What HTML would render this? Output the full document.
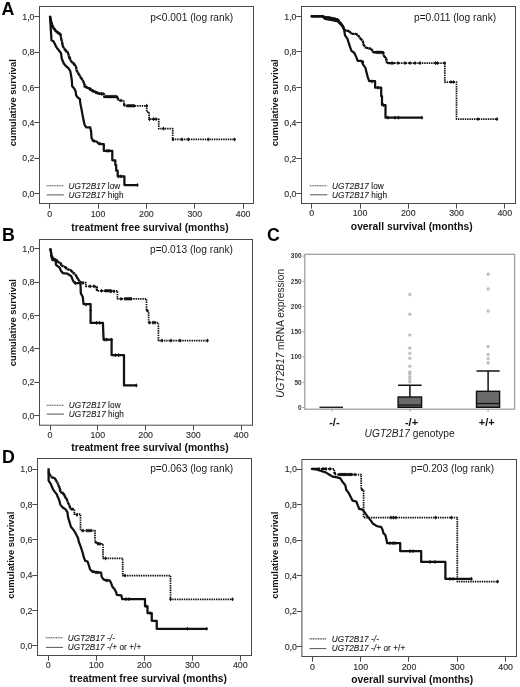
<!DOCTYPE html><html><head><meta charset="utf-8"><style>html,body{margin:0;padding:0;background:#fff;overflow:hidden;}svg{display:block;filter:grayscale(1);}text{font-family:"Liberation Sans", sans-serif;}</style></head><body>
<svg width="520" height="687" viewBox="0 0 520 687">
<rect width="520" height="687" fill="#fff"/>
<text x="1.6" y="14.8" font-size="17.8" font-weight="bold" fill="#000">A</text>
<text x="2.1" y="240.7" font-size="17.8" font-weight="bold" fill="#000">B</text>
<text x="267" y="240.7" font-size="17.8" font-weight="bold" fill="#000">C</text>
<text x="1.9" y="462.7" font-size="17.8" font-weight="bold" fill="#000">D</text>
<rect x="39.5" y="6.5" width="214" height="197" fill="none" stroke="#4a4a4a" stroke-width="1"/>
<text x="34.5" y="196.8" text-anchor="end" font-size="8.8" fill="#333" stroke="#333" stroke-width="0.15">0,0</text>
<text x="34.5" y="161.42" text-anchor="end" font-size="8.8" fill="#333" stroke="#333" stroke-width="0.15">0,2</text>
<text x="34.5" y="126.04" text-anchor="end" font-size="8.8" fill="#333" stroke="#333" stroke-width="0.15">0,4</text>
<text x="34.5" y="90.66" text-anchor="end" font-size="8.8" fill="#333" stroke="#333" stroke-width="0.15">0,6</text>
<text x="34.5" y="55.28" text-anchor="end" font-size="8.8" fill="#333" stroke="#333" stroke-width="0.15">0,8</text>
<text x="34.5" y="19.9" text-anchor="end" font-size="8.8" fill="#333" stroke="#333" stroke-width="0.15">1,0</text>
<text x="49.7" y="216.6" text-anchor="middle" font-size="8.8" fill="#333" stroke="#333" stroke-width="0.15">0</text>
<text x="98.05" y="216.6" text-anchor="middle" font-size="8.8" fill="#333" stroke="#333" stroke-width="0.15">100</text>
<text x="146.4" y="216.6" text-anchor="middle" font-size="8.8" fill="#333" stroke="#333" stroke-width="0.15">200</text>
<text x="194.75" y="216.6" text-anchor="middle" font-size="8.8" fill="#333" stroke="#333" stroke-width="0.15">300</text>
<text x="243.1" y="216.6" text-anchor="middle" font-size="8.8" fill="#333" stroke="#333" stroke-width="0.15">400</text>
<path d="M34.3 193.5H39.5M34.3 158.5H39.5M34.3 122.5H39.5M34.3 87.5H39.5M34.3 52.5H39.5M34.3 16.5H39.5M49.5 203.5V208.7M98.5 203.5V208.7M146.5 203.5V208.7M194.5 203.5V208.7M243.5 203.5V208.7" stroke="#4a4a4a" stroke-width="1" fill="none"/>
<text x="150" y="230.5" text-anchor="middle" font-size="10.3" font-weight="bold" fill="#111">treatment free survival (months)</text>
<text transform="translate(15.9 102.7) rotate(-90)" text-anchor="middle" font-size="9.4" font-weight="bold" fill="#111">cumulative survival</text>
<text x="150.2" y="21.1" font-size="10.2" fill="#1a1a1a">p&lt;0.001 (log rank)</text>
<path d="M46.7 185.8H63.8" stroke="#444" stroke-width="1.1" stroke-dasharray="1.1 0.6" fill="none"/>
<path d="M46.7 194.9H63.8" stroke="#555" stroke-width="1" fill="none"/>
<text x="68.5" y="188.6" font-size="8.2" fill="#1a1a1a" stroke="#1a1a1a" stroke-width="0.1" letter-spacing="0.08"><tspan font-style="italic">UGT2B17</tspan> low</text>
<text x="68.5" y="197.7" font-size="8.2" fill="#1a1a1a" stroke="#1a1a1a" stroke-width="0.1" letter-spacing="0.08"><tspan font-style="italic">UGT2B17</tspan> high</text>
<path d="M50 16.6L51.2 22L52.3 25.8L53.8 28.5L56.5 31.6L60.4 34.3L61.2 38.9L62.3 42.8L62.6 45.8L64.9 49.6L68 52.7L69.2 57.3L71.1 61.2L74.2 64.2L76.1 66.5L76.5 70.4L78.8 74.2L81.1 78.1L83 80.5L83.8 83.1L85.3 86.2L86.8 87.7L89.5 88.5L91.8 90.4L94.2 91.5L97.2 93.1L100.3 93.8H104.3V96.7H117.3V97.2L118.75 100.5H123.1V101H124V103.4L124.5 105.8H146.7V112H149.1V119.2H158.75V128.7H172.7V139.4H234.6V139.4" fill="none" stroke="#111" stroke-width="1.75" stroke-linejoin="round" stroke-dasharray="1.45 0.85"/>
<path d="M50 16.6L51.2 22M51.2 22L52.3 25.8M52.3 25.8L53.8 28.5M53.8 28.5L56.5 31.6M56.5 31.6L60.4 34.3M60.4 34.3L61.2 38.9M61.2 38.9L62.3 42.8M62.3 42.8L62.6 45.8M62.6 45.8L64.9 49.6M64.9 49.6L68 52.7M68 52.7L69.2 57.3M69.2 57.3L71.1 61.2M71.1 61.2L74.2 64.2M74.2 64.2L76.1 66.5M76.1 66.5L76.5 70.4M76.5 70.4L78.8 74.2M78.8 74.2L81.1 78.1M81.1 78.1L83 80.5M83 80.5L83.8 83.1M83.8 83.1L85.3 86.2M85.3 86.2L86.8 87.7M86.8 87.7L89.5 88.5M89.5 88.5L91.8 90.4M91.8 90.4L94.2 91.5M94.2 91.5L97.2 93.1M97.2 93.1L100.3 93.8M117.3 97.2L118.75 100.5M124 103.4L124.5 105.8" fill="none" stroke="#111" stroke-width="2.35" stroke-dasharray="2.3 0.6"/>
<path d="M104.3 96.7L116.8 96.7" fill="none" stroke="#111" stroke-width="2.4" stroke-linecap="round" stroke-linejoin="round"/>
<path d="M127 105.8L134 105.8" fill="none" stroke="#111" stroke-width="2.4" stroke-linecap="round" stroke-linejoin="round"/>
<path d="M84.5 86.5L89.5 88.5L92 90.5L100.3 93.8" fill="none" stroke="#111" stroke-width="2.4" stroke-linecap="round" stroke-linejoin="round"/>
<path d="M50 16.6L51.2 22L52.3 25.8L53.8 28.5L56.5 31.6L60.4 34.3" fill="none" stroke="#111" stroke-width="2.4" stroke-linecap="round" stroke-linejoin="round"/>
<path d="M173 137.3L174.4 139.4L173 141.5L171.6 139.4ZM182 137.3L183.4 139.4L182 141.5L180.6 139.4ZM188.5 137.3L189.9 139.4L188.5 141.5L187.1 139.4ZM208.2 137.3L209.6 139.4L208.2 141.5L206.8 139.4ZM234.6 137.3L236 139.4L234.6 141.5L233.2 139.4ZM163.5 126.6L164.9 128.7L163.5 130.8L162.1 128.7ZM149.5 117.1L150.9 119.2L149.5 121.3L148.1 119.2ZM153.5 117.1L154.9 119.2L153.5 121.3L152.1 119.2ZM156 117.1L157.4 119.2L156 121.3L154.6 119.2ZM128 103.7L129.4 105.8L128 107.9L126.6 105.8ZM130 103.7L131.4 105.8L130 107.9L128.6 105.8ZM132 103.7L133.4 105.8L132 107.9L130.6 105.8ZM134 103.7L135.4 105.8L134 107.9L132.6 105.8ZM106 94.6L107.4 96.7L106 98.8L104.6 96.7ZM108 94.6L109.4 96.7L108 98.8L106.6 96.7ZM110 94.6L111.4 96.7L110 98.8L108.6 96.7ZM112 94.6L113.4 96.7L112 98.8L110.6 96.7ZM114 94.6L115.4 96.7L114 98.8L112.6 96.7ZM116 94.6L117.4 96.7L116 98.8L114.6 96.7ZM121 98.4L122.4 100.5L121 102.6L119.6 100.5ZM146.7 103.7L148.1 105.8L146.7 107.9L145.3 105.8ZM101.5 91.7L102.9 93.8L101.5 95.9L100.1 93.8ZM103 91.7L104.4 93.8L103 95.9L101.6 93.8ZM90 86.9L91.4 89L90 91.1L88.6 89ZM93 88.9L94.4 91L93 93.1L91.6 91ZM96 90.4L97.4 92.5L96 94.6L94.6 92.5ZM70 55.9L71.4 58L70 60.1L68.6 58ZM74 61.9L75.4 64L74 66.1L72.6 64ZM66 48.9L67.4 51L66 53.1L64.6 51ZM58 30.9L59.4 33L58 35.1L56.6 33ZM55 27.9L56.4 30L55 32.1L53.6 30Z" fill="#111" stroke="none"/>
<path d="M50 16.6L51.5 40.5L53.5 41.2L55 44.3L56.5 47.4L58.2 49.5L60.5 52.5L61.1 53.5L61.8 58.8L63.8 63.5L65.7 65.8L68.4 68.1L70.3 71.2L71.1 75.8L71.8 80L72.2 86.2L74.2 88.5L75.7 91.5L76.1 95.4L77.6 97.3L79.9 99.2L80.3 103.1L81.5 109.2L82.2 113.1L83.4 119.2L84.5 124.6L86.1 127.3H90.3V127.7L91.1 131.5L91.5 137.7L93 140.8L96.5 141.5L98.8 143.8L102.6 144.2H103.8V150.8H112.3V160.3H115.3V165H116.2V170.7H117.7V176.3H124.4V185H137.4V185" fill="none" stroke="#111" stroke-width="2.25" stroke-linejoin="round"/>
<path d="M137.4 182.9L138.8 185L137.4 187.1L136 185ZM99.9 141.6L101.3 143.7L99.9 145.8L98.5 143.7ZM94 138.9L95.4 141L94 143.1L92.6 141ZM107 148.7L108.4 150.8L107 152.9L105.6 150.8ZM109 148.7L110.4 150.8L109 152.9L107.6 150.8ZM118.5 174.2L119.9 176.3L118.5 178.4L117.1 176.3ZM121 174.2L122.4 176.3L121 178.4L119.6 176.3Z" fill="#111" stroke="none"/>
<rect x="301.5" y="6.5" width="214" height="197" fill="none" stroke="#4a4a4a" stroke-width="1"/>
<text x="296.5" y="196.95" text-anchor="end" font-size="8.8" fill="#333" stroke="#333" stroke-width="0.15">0,0</text>
<text x="296.5" y="161.5" text-anchor="end" font-size="8.8" fill="#333" stroke="#333" stroke-width="0.15">0,2</text>
<text x="296.5" y="126.05" text-anchor="end" font-size="8.8" fill="#333" stroke="#333" stroke-width="0.15">0,4</text>
<text x="296.5" y="90.6" text-anchor="end" font-size="8.8" fill="#333" stroke="#333" stroke-width="0.15">0,6</text>
<text x="296.5" y="55.15" text-anchor="end" font-size="8.8" fill="#333" stroke="#333" stroke-width="0.15">0,8</text>
<text x="296.5" y="19.7" text-anchor="end" font-size="8.8" fill="#333" stroke="#333" stroke-width="0.15">1,0</text>
<text x="311.75" y="216.3" text-anchor="middle" font-size="8.8" fill="#333" stroke="#333" stroke-width="0.15">0</text>
<text x="360" y="216.3" text-anchor="middle" font-size="8.8" fill="#333" stroke="#333" stroke-width="0.15">100</text>
<text x="408.25" y="216.3" text-anchor="middle" font-size="8.8" fill="#333" stroke="#333" stroke-width="0.15">200</text>
<text x="456.5" y="216.3" text-anchor="middle" font-size="8.8" fill="#333" stroke="#333" stroke-width="0.15">300</text>
<text x="504.75" y="216.3" text-anchor="middle" font-size="8.8" fill="#333" stroke="#333" stroke-width="0.15">400</text>
<path d="M296.3 193.5H301.5M296.3 158.5H301.5M296.3 122.5H301.5M296.3 87.5H301.5M296.3 51.5H301.5M296.3 16.5H301.5M311.5 203.5V208.7M360.5 203.5V208.7M408.5 203.5V208.7M456.5 203.5V208.7M504.5 203.5V208.7" stroke="#4a4a4a" stroke-width="1" fill="none"/>
<text x="411.8" y="230" text-anchor="middle" font-size="10.3" font-weight="bold" fill="#111">overall survival (months)</text>
<text transform="translate(278.2 102.8) rotate(-90)" text-anchor="middle" font-size="9.4" font-weight="bold" fill="#111">cumulative survival</text>
<text x="414" y="20.7" font-size="10.2" fill="#1a1a1a">p=0.011 (log rank)</text>
<path d="M310 185.8H327.3" stroke="#444" stroke-width="1.1" stroke-dasharray="1.1 0.6" fill="none"/>
<path d="M310 194.8H327.3" stroke="#555" stroke-width="1" fill="none"/>
<text x="332" y="188.6" font-size="8.2" fill="#1a1a1a" stroke="#1a1a1a" stroke-width="0.1" letter-spacing="0.08"><tspan font-style="italic">UGT2B17</tspan> low</text>
<text x="332" y="197.6" font-size="8.2" fill="#1a1a1a" stroke="#1a1a1a" stroke-width="0.1" letter-spacing="0.08"><tspan font-style="italic">UGT2B17</tspan> high</text>
<path d="M311.5 16.3H322.6V16.3L325 17.5L331 17.8L338 19.5L339.6 22.5L342.7 26.2L344.2 30L348.8 31.2L351.9 33.8L355.8 33.8L358.1 35.4L360.4 38.5L362.7 40.8L363.5 44.6L365.8 47.7L371.2 48.8L372.7 51.5L374 52.3H383.1V52.3L383.8 55.8L386.2 58.5L386.9 63.1H444.8V82H456.5V119.1H497V119.1" fill="none" stroke="#111" stroke-width="1.75" stroke-linejoin="round" stroke-dasharray="1.45 0.85"/>
<path d="M322.6 16.3L325 17.5M325 17.5L331 17.8M331 17.8L338 19.5M338 19.5L339.6 22.5M339.6 22.5L342.7 26.2M342.7 26.2L344.2 30M344.2 30L348.8 31.2M348.8 31.2L351.9 33.8M351.9 33.8L355.8 33.8M355.8 33.8L358.1 35.4M358.1 35.4L360.4 38.5M360.4 38.5L362.7 40.8M362.7 40.8L363.5 44.6M363.5 44.6L365.8 47.7M365.8 47.7L371.2 48.8M371.2 48.8L372.7 51.5M372.7 51.5L374 52.3M383.1 52.3L383.8 55.8M383.8 55.8L386.2 58.5M386.2 58.5L386.9 63.1" fill="none" stroke="#111" stroke-width="2.35" stroke-dasharray="2.3 0.6"/>
<path d="M311.5 16.3L322.6 16.3L325 18.3L331 19.2L338 20.8L341 23.5L343.5 27.5" fill="none" stroke="#111" stroke-width="2.4" stroke-linecap="round" stroke-linejoin="round"/>
<path d="M322.6 16.3L326 17.3L332 18.2L338 19.8" fill="none" stroke="#111" stroke-width="2.4" stroke-linecap="round" stroke-linejoin="round"/>
<path d="M374 52.3L383 52.3" fill="none" stroke="#111" stroke-width="2.4" stroke-linecap="round" stroke-linejoin="round"/>
<path d="M388 63.1L394 63.1" fill="none" stroke="#111" stroke-width="2.4" stroke-linecap="round" stroke-linejoin="round"/>
<path d="M497 117L498.4 119.1L497 121.2L495.6 119.1ZM478 117L479.4 119.1L478 121.2L476.6 119.1ZM451 79.9L452.4 82L451 84.1L449.6 82ZM453.5 79.9L454.9 82L453.5 84.1L452.1 82ZM444.8 61L446.2 63.1L444.8 65.2L443.4 63.1ZM435.5 61L436.9 63.1L435.5 65.2L434.1 63.1ZM437.5 61L438.9 63.1L437.5 65.2L436.1 63.1ZM420 61L421.4 63.1L420 65.2L418.6 63.1ZM415 61L416.4 63.1L415 65.2L413.6 63.1ZM410 61L411.4 63.1L410 65.2L408.6 63.1ZM405 61L406.4 63.1L405 65.2L403.6 63.1ZM398 61L399.4 63.1L398 65.2L396.6 63.1ZM392 61L393.4 63.1L392 65.2L390.6 63.1ZM377 50.2L378.4 52.3L377 54.4L375.6 52.3ZM379 50.2L380.4 52.3L379 54.4L377.6 52.3ZM381 50.2L382.4 52.3L381 54.4L379.6 52.3Z" fill="#111" stroke="none"/>
<path d="M311.5 16.3H322.6V16.3L325 18.8L331 19.8L338 21.5L339.6 23.1L342.7 26.2L344.2 30L345 35.4L347.3 38.5L348.8 43.1L350 46.9L351.5 50.8L354.4 53L356.2 56.9L357.7 60.8H361.5V60.8L363.1 64.6L365.4 67.7L366.5 72.3L367.7 76.9L369.2 81.2H375.1V81.5H375.1V87.7H381.2V96.2H382V105H385.5V117.7H421.9V117.7" fill="none" stroke="#111" stroke-width="2.25" stroke-linejoin="round"/>
<path d="M421.9 115.6L423.3 117.7L421.9 119.8L420.5 117.7ZM388 115.6L389.4 117.7L388 119.8L386.6 117.7ZM395 115.6L396.4 117.7L395 119.8L393.6 117.7ZM398.5 115.6L399.9 117.7L398.5 119.8L397.1 117.7ZM378 85.6L379.4 87.7L378 89.8L376.6 87.7ZM372 79.2L373.4 81.3L372 83.4L370.6 81.3ZM383.5 102.9L384.9 105L383.5 107.1L382.1 105ZM363 59.9L364.4 62L363 64.1L361.6 62Z" fill="#111" stroke="none"/>
<rect x="39.5" y="239.5" width="213" height="185.7" fill="none" stroke="#4a4a4a" stroke-width="1"/>
<text x="34.5" y="418.7" text-anchor="end" font-size="8.8" fill="#333" stroke="#333" stroke-width="0.15">0,0</text>
<text x="34.5" y="385.35" text-anchor="end" font-size="8.8" fill="#333" stroke="#333" stroke-width="0.15">0,2</text>
<text x="34.5" y="352" text-anchor="end" font-size="8.8" fill="#333" stroke="#333" stroke-width="0.15">0,4</text>
<text x="34.5" y="318.65" text-anchor="end" font-size="8.8" fill="#333" stroke="#333" stroke-width="0.15">0,6</text>
<text x="34.5" y="285.3" text-anchor="end" font-size="8.8" fill="#333" stroke="#333" stroke-width="0.15">0,8</text>
<text x="34.5" y="251.95" text-anchor="end" font-size="8.8" fill="#333" stroke="#333" stroke-width="0.15">1,0</text>
<text x="50" y="438" text-anchor="middle" font-size="8.8" fill="#333" stroke="#333" stroke-width="0.15">0</text>
<text x="97.8" y="438" text-anchor="middle" font-size="8.8" fill="#333" stroke="#333" stroke-width="0.15">100</text>
<text x="145.6" y="438" text-anchor="middle" font-size="8.8" fill="#333" stroke="#333" stroke-width="0.15">200</text>
<text x="193.4" y="438" text-anchor="middle" font-size="8.8" fill="#333" stroke="#333" stroke-width="0.15">300</text>
<text x="241.2" y="438" text-anchor="middle" font-size="8.8" fill="#333" stroke="#333" stroke-width="0.15">400</text>
<path d="M34.3 415.5H39.5M34.3 382.5H39.5M34.3 348.5H39.5M34.3 315.5H39.5M34.3 282.5H39.5M34.3 248.5H39.5M50.5 425.2V430.4M97.5 425.2V430.4M145.5 425.2V430.4M193.5 425.2V430.4M241.5 425.2V430.4" stroke="#4a4a4a" stroke-width="1" fill="none"/>
<text x="149.9" y="450.6" text-anchor="middle" font-size="10.3" font-weight="bold" fill="#111">treatment free survival (months)</text>
<text transform="translate(16 322.75) rotate(-90)" text-anchor="middle" font-size="9.4" font-weight="bold" fill="#111">cumulative survival</text>
<text x="150" y="253.3" font-size="10.2" fill="#1a1a1a">p=0.013 (log rank)</text>
<path d="M46.7 405.3H64" stroke="#444" stroke-width="1.1" stroke-dasharray="1.1 0.6" fill="none"/>
<path d="M46.7 414.1H64" stroke="#555" stroke-width="1" fill="none"/>
<text x="68.8" y="408.1" font-size="8.2" fill="#1a1a1a" stroke="#1a1a1a" stroke-width="0.1" letter-spacing="0.08"><tspan font-style="italic">UGT2B17</tspan> low</text>
<text x="68.8" y="416.9" font-size="8.2" fill="#1a1a1a" stroke="#1a1a1a" stroke-width="0.1" letter-spacing="0.08"><tspan font-style="italic">UGT2B17</tspan> high</text>
<path d="M50.2 248.6L51 252L51.4 255.5L53.7 259L56.8 259.8L57.5 261.7L60.6 263.2L61.4 265.5L65.2 267.1L67.5 269.4L70.6 270.2L72.9 272.5L75.6 274.8L76.8 277.1L78.3 279.4L79.8 281.7L81.4 282.5H85.8V282.8H85.8V286.3H96.6V286.3L97 290.8H117.4V291.4H117.4V298.8H146.5V298.8H146.5V309.9L148.6 312H148.6V322.6H158.4V322.6H158.4V340.6H207.5V340.6" fill="none" stroke="#111" stroke-width="1.75" stroke-linejoin="round" stroke-dasharray="1.45 0.85"/>
<path d="M50.2 248.6L51 252M51 252L51.4 255.5M51.4 255.5L53.7 259M53.7 259L56.8 259.8M56.8 259.8L57.5 261.7M57.5 261.7L60.6 263.2M60.6 263.2L61.4 265.5M61.4 265.5L65.2 267.1M65.2 267.1L67.5 269.4M67.5 269.4L70.6 270.2M70.6 270.2L72.9 272.5M72.9 272.5L75.6 274.8M75.6 274.8L76.8 277.1M76.8 277.1L78.3 279.4M78.3 279.4L79.8 281.7M79.8 281.7L81.4 282.5M96.6 286.3L97 290.8M146.5 309.9L148.6 312" fill="none" stroke="#111" stroke-width="2.35" stroke-dasharray="2.3 0.6"/>
<path d="M105 290.8L111 290.8" fill="none" stroke="#111" stroke-width="2.4" stroke-linecap="round" stroke-linejoin="round"/>
<path d="M126 298.8L131 298.8" fill="none" stroke="#111" stroke-width="2.4" stroke-linecap="round" stroke-linejoin="round"/>
<path d="M207.5 338.5L208.9 340.6L207.5 342.7L206.1 340.6ZM180 338.5L181.4 340.6L180 342.7L178.6 340.6ZM171 338.5L172.4 340.6L171 342.7L169.6 340.6ZM162 338.5L163.4 340.6L162 342.7L160.6 340.6ZM149.5 320.5L150.9 322.6L149.5 324.7L148.1 322.6ZM153 320.5L154.4 322.6L153 324.7L151.6 322.6ZM155 320.5L156.4 322.6L155 324.7L153.6 322.6ZM121 296.7L122.4 298.8L121 300.9L119.6 298.8ZM125 296.7L126.4 298.8L125 300.9L123.6 298.8ZM127 296.7L128.4 298.8L127 300.9L125.6 298.8ZM129 296.7L130.4 298.8L129 300.9L127.6 298.8ZM131 296.7L132.4 298.8L131 300.9L129.6 298.8ZM101.5 288.7L102.9 290.8L101.5 292.9L100.1 290.8ZM106 288.7L107.4 290.8L106 292.9L104.6 290.8ZM108 288.7L109.4 290.8L108 292.9L106.6 290.8ZM110 288.7L111.4 290.8L110 292.9L108.6 290.8ZM111 289.3L112.4 291.4L111 293.5L109.6 291.4ZM114 289.3L115.4 291.4L114 293.5L112.6 291.4ZM90 284.2L91.4 286.3L90 288.4L88.6 286.3ZM94 284.2L95.4 286.3L94 288.4L92.6 286.3ZM83 280.7L84.4 282.8L83 284.9L81.6 282.8ZM66 265.9L67.4 268L66 270.1L64.6 268ZM61 261.9L62.4 264L61 266.1L59.6 264Z" fill="#111" stroke="none"/>
<path d="M50.2 248.6L51 252L51.4 256.7L52.5 260.2L55.6 260.5L56 264.8L59.8 267.8L60.6 270.2L62.9 273.2L67.5 273.6L69 274.8L71.4 276.3L72.5 279.4L73.7 281.7L74.8 283H80.5V283.4L80.8 293.2L82.8 297.1L83.5 304H90.6V304.8H90.6V322.9H102.9V322.9L103.6 339.6H111.6V339.6H111.6V355.1H124V355.1H124V385.4H136.3V385.4" fill="none" stroke="#111" stroke-width="2.25" stroke-linejoin="round"/>
<path d="M136.3 383.3L137.7 385.4L136.3 387.5L134.9 385.4ZM115.4 353L116.8 355.1L115.4 357.2L114 355.1ZM118.8 353L120.2 355.1L118.8 357.2L117.4 355.1ZM104.4 337.5L105.8 339.6L104.4 341.7L103 339.6ZM106.8 337.5L108.2 339.6L106.8 341.7L105.4 339.6ZM111.6 337.5L113 339.6L111.6 341.7L110.2 339.6ZM96.5 320.8L97.9 322.9L96.5 325L95.1 322.9ZM99.6 320.8L101 322.9L99.6 325L98.2 322.9ZM90.6 308.4L92 310.5L90.6 312.6L89.2 310.5ZM86 302.4L87.4 304.5L86 306.6L84.6 304.5ZM80.5 281.2L81.9 283.3L80.5 285.4L79.1 283.3ZM75.5 281.1L76.9 283.2L75.5 285.3L74.1 283.2Z" fill="#111" stroke="none"/>
<rect x="37.5" y="458.5" width="214" height="197" fill="none" stroke="#4a4a4a" stroke-width="1"/>
<text x="32.5" y="648.95" text-anchor="end" font-size="8.8" fill="#333" stroke="#333" stroke-width="0.15">0,0</text>
<text x="32.5" y="613.65" text-anchor="end" font-size="8.8" fill="#333" stroke="#333" stroke-width="0.15">0,2</text>
<text x="32.5" y="578.35" text-anchor="end" font-size="8.8" fill="#333" stroke="#333" stroke-width="0.15">0,4</text>
<text x="32.5" y="543.05" text-anchor="end" font-size="8.8" fill="#333" stroke="#333" stroke-width="0.15">0,6</text>
<text x="32.5" y="507.75" text-anchor="end" font-size="8.8" fill="#333" stroke="#333" stroke-width="0.15">0,8</text>
<text x="32.5" y="472.45" text-anchor="end" font-size="8.8" fill="#333" stroke="#333" stroke-width="0.15">1,0</text>
<text x="48.3" y="668.3" text-anchor="middle" font-size="8.8" fill="#333" stroke="#333" stroke-width="0.15">0</text>
<text x="96.3" y="668.3" text-anchor="middle" font-size="8.8" fill="#333" stroke="#333" stroke-width="0.15">100</text>
<text x="144.3" y="668.3" text-anchor="middle" font-size="8.8" fill="#333" stroke="#333" stroke-width="0.15">200</text>
<text x="192.3" y="668.3" text-anchor="middle" font-size="8.8" fill="#333" stroke="#333" stroke-width="0.15">300</text>
<text x="240.3" y="668.3" text-anchor="middle" font-size="8.8" fill="#333" stroke="#333" stroke-width="0.15">400</text>
<path d="M32.3 645.5H37.5M32.3 610.5H37.5M32.3 575.5H37.5M32.3 539.5H37.5M32.3 504.5H37.5M32.3 469.5H37.5M48.5 655.5V660.7M96.5 655.5V660.7M144.5 655.5V660.7M192.5 655.5V660.7M240.5 655.5V660.7" stroke="#4a4a4a" stroke-width="1" fill="none"/>
<text x="148.2" y="681.6" text-anchor="middle" font-size="10.3" font-weight="bold" fill="#111">treatment free survival (months)</text>
<text transform="translate(13.9 555.2) rotate(-90)" text-anchor="middle" font-size="9.4" font-weight="bold" fill="#111">cumulative survival</text>
<text x="150.2" y="471.5" font-size="10.2" fill="#1a1a1a">p=0.063 (log rank)</text>
<path d="M45.8 637.7H63" stroke="#444" stroke-width="1.1" stroke-dasharray="1.1 0.6" fill="none"/>
<path d="M45.8 647.4H63" stroke="#555" stroke-width="1" fill="none"/>
<text x="67.7" y="640.5" font-size="8.2" fill="#1a1a1a" stroke="#1a1a1a" stroke-width="0.1" letter-spacing="0.08"><tspan font-style="italic">UGT2B17 -/-</tspan></text>
<text x="67.7" y="650.2" font-size="8.2" fill="#1a1a1a" stroke="#1a1a1a" stroke-width="0.1" letter-spacing="0.08"><tspan font-style="italic">UGT2B17 -/+</tspan> or +/+</text>
<path d="M48.6 468.5H48.6V472L49.4 474.2L51.7 477.3L54.8 478.1L55.9 480.4L57.5 482.7L58.6 485.8L59.8 488.1L60.5 491.9L62.8 493.1L64.4 495L65.2 497.3L66.6 498.8L68 502.7L69.5 505.6L70.4 508.9H74.3V509.4H74.3V514.2H80.5V515.2H80.5V530.6H95V530.6H95V541.9L98.7 543.8H103V543.8H103V558.3H122.7V558.3H122.7V575.5H170.5V575.5H170.5V599.25H232.5V599.25" fill="none" stroke="#111" stroke-width="1.75" stroke-linejoin="round" stroke-dasharray="1.45 0.85"/>
<path d="M48.6 472L49.4 474.2M49.4 474.2L51.7 477.3M51.7 477.3L54.8 478.1M54.8 478.1L55.9 480.4M55.9 480.4L57.5 482.7M57.5 482.7L58.6 485.8M58.6 485.8L59.8 488.1M59.8 488.1L60.5 491.9M60.5 491.9L62.8 493.1M62.8 493.1L64.4 495M64.4 495L65.2 497.3M65.2 497.3L66.6 498.8M66.6 498.8L68 502.7M68 502.7L69.5 505.6M69.5 505.6L70.4 508.9M95 541.9L98.7 543.8" fill="none" stroke="#111" stroke-width="2.35" stroke-dasharray="2.3 0.6"/>
<path d="M232.5 597.15L233.9 599.25L232.5 601.35L231.1 599.25ZM170.5 597.15L171.9 599.25L170.5 601.35L169.1 599.25ZM125 573.4L126.4 575.5L125 577.6L123.6 575.5ZM105.5 556.2L106.9 558.3L105.5 560.4L104.1 558.3ZM98 541.7L99.4 543.8L98 545.9L96.6 543.8ZM100 541.7L101.4 543.8L100 545.9L98.6 543.8ZM83 528.5L84.4 530.6L83 532.7L81.6 530.6ZM87 528.5L88.4 530.6L87 532.7L85.6 530.6ZM89 528.5L90.4 530.6L89 532.7L87.6 530.6ZM91 528.5L92.4 530.6L91 532.7L89.6 530.6ZM77 512.9L78.4 515L77 517.1L75.6 515ZM72 507.1L73.4 509.2L72 511.3L70.6 509.2ZM60 487.9L61.4 490L60 492.1L58.6 490ZM63 491.4L64.4 493.5L63 495.6L61.6 493.5Z" fill="#111" stroke="none"/>
<path d="M48.6 468.5H48.6V480.4L49.4 481.9L50.9 484.2L52.1 487.3L53.2 489.6L54.8 491.9L56.7 494.2L57.4 496L59.4 500.8L60.3 504.6L62.7 507.5L65.6 509.4L67.5 512.3L68 517.1L69.5 521.9L70.9 526.7L73.3 529.6L75.2 532.5L76.7 535.4L78.1 538.3L78.7 541.5L80.4 545.8L82.3 551.5L83.8 557.3L85.2 560.7L87.6 561.6L89.1 566L90 569.3L91.9 571.3L95.3 572.2L101.1 572.7L101.6 576.5L103.5 579.4L105.9 580.4L109.7 580.4L111.2 583.3L112.6 587.1L114.5 589L116 591.9L116.9 594.8L121.3 595.3L122.2 599.1H145V599.1H145V606.25H147.5V606.25H147.5V613H151.75V613H151.75V620.75H156.75V620.75H156.75V628.75H206.75V628.75" fill="none" stroke="#111" stroke-width="2.25" stroke-linejoin="round"/>
<path d="M206.75 626.65L208.15 628.75L206.75 630.85L205.35 628.75ZM187.5 626.65L188.9 628.75L187.5 630.85L186.1 628.75ZM126 597L127.4 599.1L126 601.2L124.6 599.1ZM129 597L130.4 599.1L129 601.2L127.6 599.1ZM146.5 604.15L147.9 606.25L146.5 608.35L145.1 606.25ZM150 610.9L151.4 613L150 615.1L148.6 613ZM96 570.2L97.4 572.3L96 574.4L94.6 572.3ZM98 570.4L99.4 572.5L98 574.6L96.6 572.5ZM93 569.4L94.4 571.5L93 573.6L91.6 571.5ZM107 578.3L108.4 580.4L107 582.5L105.6 580.4Z" fill="#111" stroke="none"/>
<rect x="301.9" y="459.5" width="214.6" height="197" fill="none" stroke="#4a4a4a" stroke-width="1"/>
<text x="296.9" y="649.95" text-anchor="end" font-size="8.8" fill="#333" stroke="#333" stroke-width="0.15">0,0</text>
<text x="296.9" y="614.45" text-anchor="end" font-size="8.8" fill="#333" stroke="#333" stroke-width="0.15">0,2</text>
<text x="296.9" y="578.95" text-anchor="end" font-size="8.8" fill="#333" stroke="#333" stroke-width="0.15">0,4</text>
<text x="296.9" y="543.45" text-anchor="end" font-size="8.8" fill="#333" stroke="#333" stroke-width="0.15">0,6</text>
<text x="296.9" y="507.95" text-anchor="end" font-size="8.8" fill="#333" stroke="#333" stroke-width="0.15">0,8</text>
<text x="296.9" y="472.45" text-anchor="end" font-size="8.8" fill="#333" stroke="#333" stroke-width="0.15">1,0</text>
<text x="312.4" y="669.5" text-anchor="middle" font-size="8.8" fill="#333" stroke="#333" stroke-width="0.15">0</text>
<text x="360.7" y="669.5" text-anchor="middle" font-size="8.8" fill="#333" stroke="#333" stroke-width="0.15">100</text>
<text x="409" y="669.5" text-anchor="middle" font-size="8.8" fill="#333" stroke="#333" stroke-width="0.15">200</text>
<text x="457.3" y="669.5" text-anchor="middle" font-size="8.8" fill="#333" stroke="#333" stroke-width="0.15">300</text>
<text x="505.6" y="669.5" text-anchor="middle" font-size="8.8" fill="#333" stroke="#333" stroke-width="0.15">400</text>
<path d="M296.7 646.5H301.9M296.7 611.5H301.9M296.7 575.5H301.9M296.7 540.5H301.9M296.7 504.5H301.9M296.7 469.5H301.9M312.5 656.5V661.7M360.5 656.5V661.7M408.5 656.5V661.7M457.5 656.5V661.7M505.5 656.5V661.7" stroke="#4a4a4a" stroke-width="1" fill="none"/>
<text x="412.2" y="683.3" text-anchor="middle" font-size="10.3" font-weight="bold" fill="#111">overall survival (months)</text>
<text transform="translate(278.2 555.2) rotate(-90)" text-anchor="middle" font-size="9.4" font-weight="bold" fill="#111">cumulative survival</text>
<text x="411.1" y="472.3" font-size="10.2" fill="#1a1a1a">p=0.203 (log rank)</text>
<path d="M309.5 638.9H326.4" stroke="#444" stroke-width="1.1" stroke-dasharray="1.1 0.6" fill="none"/>
<path d="M309.5 648.6H326.4" stroke="#555" stroke-width="1" fill="none"/>
<text x="331.7" y="641.7" font-size="8.2" fill="#1a1a1a" stroke="#1a1a1a" stroke-width="0.1" letter-spacing="0.08"><tspan font-style="italic">UGT2B17 -/-</tspan></text>
<text x="331.7" y="651.4" font-size="8.2" fill="#1a1a1a" stroke="#1a1a1a" stroke-width="0.1" letter-spacing="0.08"><tspan font-style="italic">UGT2B17 -/+</tspan> or +/+</text>
<path d="M311.8 468.9H334.2V468.9H334.2V472L335.5 474.5H361.2V474.5H361.2V489L363.6 490.5H363.6V517.6H457.3V517.6H457.3V581.6H497.7V581.6" fill="none" stroke="#111" stroke-width="1.75" stroke-linejoin="round" stroke-dasharray="1.45 0.85"/>
<path d="M334.2 472L335.5 474.5M361.2 489L363.6 490.5" fill="none" stroke="#111" stroke-width="2.35" stroke-dasharray="2.3 0.6"/>
<path d="M339 474.5L352 474.5" fill="none" stroke="#111" stroke-width="2.4" stroke-linecap="round" stroke-linejoin="round"/>
<path d="M312 468.9L318 468.9" fill="none" stroke="#111" stroke-width="2.4" stroke-linecap="round" stroke-linejoin="round"/>
<path d="M322 468.9L326 468.9" fill="none" stroke="#111" stroke-width="2.4" stroke-linecap="round" stroke-linejoin="round"/>
<path d="M497.7 579.5L499.1 581.6L497.7 583.7L496.3 581.6ZM451.4 515.5L452.8 517.6L451.4 519.7L450 517.6ZM435.7 515.5L437.1 517.6L435.7 519.7L434.3 517.6ZM391 515.5L392.4 517.6L391 519.7L389.6 517.6ZM393.5 515.5L394.9 517.6L393.5 519.7L392.1 517.6ZM396 515.5L397.4 517.6L396 519.7L394.6 517.6ZM330 466.8L331.4 468.9L330 471L328.6 468.9ZM326 466.8L327.4 468.9L326 471L324.6 468.9ZM323 466.8L324.4 468.9L323 471L321.6 468.9ZM319 466.8L320.4 468.9L319 471L317.6 468.9ZM340 472.4L341.4 474.5L340 476.6L338.6 474.5ZM342 472.4L343.4 474.5L342 476.6L340.6 474.5ZM344 472.4L345.4 474.5L344 476.6L342.6 474.5ZM346 472.4L347.4 474.5L346 476.6L344.6 474.5ZM349 472.4L350.4 474.5L349 476.6L347.6 474.5ZM351 472.4L352.4 474.5L351 476.6L349.6 474.5ZM355 472.4L356.4 474.5L355 476.6L353.6 474.5Z" fill="#111" stroke="none"/>
<path d="M311.8 468.9L317.2 469.7L321.8 471.2L325.7 472.4L329.5 474.7L332.6 476.6L337.2 477.4L340.3 478.4L342.9 482.3L345.3 485.2L346.3 490L348.7 492.9L350.6 496.7L352.5 500.6L356.3 501.5L357.8 505.4L359.2 508.8L362.6 509.7L364.5 512.1L366.4 515L368.4 517.6L370.9 520.6L372.8 523.5L375.7 525.4L377.6 526.3L381 526.8L382.4 529.2L383.4 533.1L385.3 535L386.3 538.8L387.2 543.2H400.2V543.2H400.2V551.2H421.2V551.2H421.2V561.9H445.4V561.9H445.4V578.9H471.5V578.9" fill="none" stroke="#111" stroke-width="2.25" stroke-linejoin="round"/>
<path d="M471.5 576.8L472.9 578.9L471.5 581L470.1 578.9ZM450 576.8L451.4 578.9L450 581L448.6 578.9ZM453 576.8L454.4 578.9L453 581L451.6 578.9ZM410 549.1L411.4 551.2L410 553.3L408.6 551.2ZM413 549.1L414.4 551.2L413 553.3L411.6 551.2ZM430 559.8L431.4 561.9L430 564L428.6 561.9ZM435 559.8L436.4 561.9L435 564L433.6 561.9ZM390 541.1L391.4 543.2L390 545.3L388.6 543.2ZM393 541.1L394.4 543.2L393 545.3L391.6 543.2ZM395 541.1L396.4 543.2L395 545.3L393.6 543.2Z" fill="#111" stroke="none"/>
<rect x="304.8" y="254.3" width="209.8" height="154.9" fill="none" stroke="#9a9a9a" stroke-width="1.2"/>
<text x="301.5" y="409.8" text-anchor="end" font-size="6.4" fill="#333" font-weight="bold" transform="translate(0 0)">0</text>
<text x="301.5" y="384.57" text-anchor="end" font-size="6.4" fill="#333" font-weight="bold" transform="translate(0 0)">50</text>
<text x="301.5" y="359.34" text-anchor="end" font-size="6.4" fill="#333" font-weight="bold" transform="translate(0 0)">100</text>
<text x="301.5" y="334.11" text-anchor="end" font-size="6.4" fill="#333" font-weight="bold" transform="translate(0 0)">150</text>
<text x="301.5" y="308.88" text-anchor="end" font-size="6.4" fill="#333" font-weight="bold" transform="translate(0 0)">200</text>
<text x="301.5" y="283.65" text-anchor="end" font-size="6.4" fill="#333" font-weight="bold" transform="translate(0 0)">250</text>
<text x="301.5" y="258.42" text-anchor="end" font-size="6.4" fill="#333" font-weight="bold" transform="translate(0 0)">300</text>
<path d="M302.6 407.5H304.8M302.6 382.27H304.8M302.6 357.04H304.8M302.6 331.81H304.8M302.6 306.58H304.8M302.6 281.35H304.8M302.6 256.12H304.8M332 409.2V411.7M409.9 409.2V411.7M488.1 409.2V411.7" stroke="#9a9a9a" stroke-width="1" fill="none"/>
<path d="M319.5 407.3H343" stroke="#222" stroke-width="1.5" fill="none"/>
<path d="M409.9 397V385.3 M398.1 385.3H421.6" stroke="#111" stroke-width="1.5" fill="none"/>
<rect x="398.1" y="397" width="23.5" height="10.3" fill="#6a6a6a" stroke="#111" stroke-width="1.4"/>
<path d="M398.1 405H421.6" stroke="#111" stroke-width="1.2" fill="none"/>
<path d="M488.1 391.3V370.9 M476.5 370.9H499.6" stroke="#111" stroke-width="1.5" fill="none"/>
<rect x="476.5" y="391.3" width="23.1" height="16" fill="#6a6a6a" stroke="#111" stroke-width="1.4"/>
<path d="M476.5 403.5H499.6" stroke="#111" stroke-width="1.2" fill="none"/>
<circle cx="409.8" cy="294.4" r="1.25" fill="#d0d0d0" stroke="#a8a8a8" stroke-width="0.7"/>
<circle cx="409.8" cy="314.3" r="1.25" fill="#d0d0d0" stroke="#a8a8a8" stroke-width="0.7"/>
<circle cx="409.8" cy="335" r="1.25" fill="#d0d0d0" stroke="#a8a8a8" stroke-width="0.7"/>
<circle cx="409.8" cy="348.1" r="1.25" fill="#d0d0d0" stroke="#a8a8a8" stroke-width="0.7"/>
<circle cx="409.8" cy="353.4" r="1.25" fill="#d0d0d0" stroke="#a8a8a8" stroke-width="0.7"/>
<circle cx="409.8" cy="358.3" r="1.25" fill="#d0d0d0" stroke="#a8a8a8" stroke-width="0.7"/>
<circle cx="409.8" cy="366.3" r="1.25" fill="#d0d0d0" stroke="#a8a8a8" stroke-width="0.7"/>
<circle cx="409.8" cy="372" r="1.25" fill="#d0d0d0" stroke="#a8a8a8" stroke-width="0.7"/>
<circle cx="409.8" cy="374.1" r="1.25" fill="#d0d0d0" stroke="#a8a8a8" stroke-width="0.7"/>
<circle cx="409.8" cy="376.9" r="1.25" fill="#d0d0d0" stroke="#a8a8a8" stroke-width="0.7"/>
<circle cx="409.8" cy="379.5" r="1.25" fill="#d0d0d0" stroke="#a8a8a8" stroke-width="0.7"/>
<circle cx="409.8" cy="382" r="1.25" fill="#d0d0d0" stroke="#a8a8a8" stroke-width="0.7"/>
<circle cx="488.1" cy="274.2" r="1.25" fill="#d0d0d0" stroke="#a8a8a8" stroke-width="0.7"/>
<circle cx="488.1" cy="288.9" r="1.25" fill="#d0d0d0" stroke="#a8a8a8" stroke-width="0.7"/>
<circle cx="488.1" cy="311.1" r="1.25" fill="#d0d0d0" stroke="#a8a8a8" stroke-width="0.7"/>
<circle cx="488.1" cy="346.6" r="1.25" fill="#d0d0d0" stroke="#a8a8a8" stroke-width="0.7"/>
<circle cx="488.1" cy="354.5" r="1.25" fill="#d0d0d0" stroke="#a8a8a8" stroke-width="0.7"/>
<circle cx="488.1" cy="358.7" r="1.25" fill="#d0d0d0" stroke="#a8a8a8" stroke-width="0.7"/>
<circle cx="488.1" cy="362.9" r="1.25" fill="#d0d0d0" stroke="#a8a8a8" stroke-width="0.7"/>
<text x="334.4" y="425.6" text-anchor="middle" font-size="11" font-weight="bold" fill="#111">-/-</text>
<text x="411.5" y="425.6" text-anchor="middle" font-size="11" font-weight="bold" fill="#111">-/+</text>
<text x="486.7" y="425.6" text-anchor="middle" font-size="11" font-weight="bold" fill="#111">+/+</text>
<text x="364.6" y="437.3" font-size="10.2" fill="#222"><tspan font-style="italic">UGT2B17</tspan> genotype</text>
<text transform="translate(284.3 333.3) rotate(-90)" text-anchor="middle" font-size="10.15" fill="#222"><tspan font-style="italic">UGT2B17</tspan> mRNA expression</text>
</svg></body></html>
